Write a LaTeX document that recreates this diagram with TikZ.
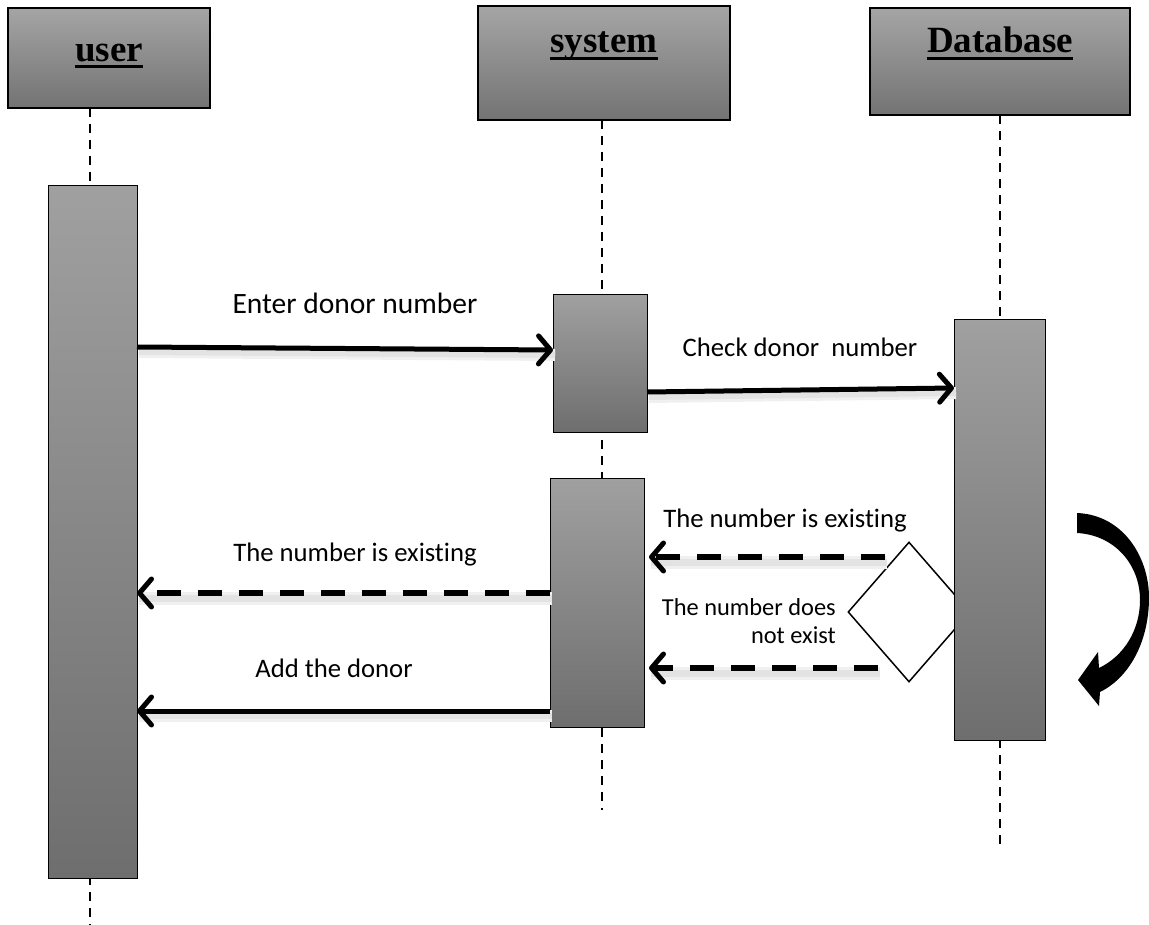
\documentclass[tikz,border=0pt]{standalone}
\usepackage{fontspec}
\setmainfont{Carlito}[Ligatures=NoCommon]
\newfontfamily\hdfont{Liberation Serif}
\usetikzlibrary{arrows.meta,shapes.geometric}
\definecolor{gtop}{RGB}{165,165,165}
\definecolor{gbot}{RGB}{115,115,115}
\definecolor{atop}{RGB}{160,160,160}
\definecolor{abot}{RGB}{110,110,110}
\begin{document}
\begin{tikzpicture}[x=1pt,y=-1pt,
  hdr/.style={draw=black, line width=1.2pt, top color=gtop, bottom color=gbot, inner sep=0pt, outer sep=0pt, rectangle},
  htxt/.style={font=\hdfont\bfseries\fontsize{37}{40}\selectfont, inner sep=0pt, anchor=base},
  uline/.style={line width=3pt},
  act/.style={draw=black, line width=1pt, top color=atop, bottom color=abot, inner sep=0pt, outer sep=0pt, rectangle},
  life/.style={line width=1.8pt, dash pattern=on 9pt off 7pt},
  shad/.style={preaction={draw=black!6, line width=#1+6pt, -, transform canvas={shift={(2pt,-5pt)}}},
               preaction={draw=black!11, line width=#1, -, transform canvas={shift={(2pt,-5pt)}}}},
  msg/.style={line width=5pt, shad=6pt, -{Straight Barb[length=12pt,width=28pt,line width=5pt,round]}},
  ret/.style={line width=6pt, shad=7pt, dash pattern=on 24pt off 17pt, -{Straight Barb[length=12pt,width=28pt,line width=5pt,round]}},
  lbl/.style={font=\fontsize{26.7}{31}\selectfont, inner sep=0pt},
  blbl/.style={font=\fontsize{29.5}{33}\selectfont, inner sep=0pt},
  slbl/.style={font=\fontsize{24.4}{28}\selectfont, inner sep=0pt, align=right},
  curl/.style={fill=black, draw=none}
]
\useasboundingbox (0,0) rectangle (1149,925);

% headers
\node[hdr, minimum width=202pt, minimum height=100pt] (uh) at (109,58) {};
\node[hdr, minimum width=252pt, minimum height=114pt] (sh) at (604,63) {};
\node[hdr, minimum width=260pt, minimum height=107pt] (dh) at (1000,61.5) {};
\node[htxt] (ut) at (109,62) {user};
\node[htxt] (st) at (604,53) {system};
\node[htxt] (dt) at (1000,53) {Database};
\draw[uline] ([yshift=-5pt]ut.base west) -- ([yshift=-5pt]ut.base east);
\draw[uline] ([yshift=-6pt]st.base west) -- ([yshift=-6pt]st.base east);
\draw[uline] ([yshift=-6pt]dt.base west) -- ([yshift=-6pt]dt.base east);

% lifelines
\coordinate (ul) at (90,925);
\coordinate (sl) at (602,810);
\coordinate (dl) at (1000,845);
\draw[life] (uh.south -| ul) -- (ul);
\draw[life] (sh.south -| sl) -- (sl);
\draw[life] (dh.south -| dl) -- (dl);

% diamond (behind database bar)
\node[diamond, draw=black, line width=1.5pt, fill=white, minimum width=122pt, minimum height=140pt, inner sep=0pt] (dia) at (909,612) {};

% activation bars
\node[act, minimum width=89pt, minimum height=692pt] (ua) at (92.5,532) {};
\node[act, minimum width=94pt, minimum height=137pt] (sa1) at (600,363.5) {};
\node[act, minimum width=94pt, minimum height=249pt] (sa2) at (597,602.5) {};
\node[act, minimum width=91pt, minimum height=420pt] (da) at (999.5,530) {};

% messages
\draw[msg] (ua.east |- 0,347) -- (sa1.west |- 0,350);
\draw[msg] (sa1.east |- 0,392) -- (da.west |- 0,388);
\coordinate (c1) at (885,557);
\coordinate (c2) at (878,668);
\draw[ret, shorten >=5pt] (c1) -- (sa2.east |- c1);
\draw[ret, shorten >=5pt] (c2) -- (sa2.east |- c2);
\draw[ret] (sa2.west |- 0,593) -- (ua.east |- 0,593);
\draw[msg] (sa2.west |- 0,711) -- (ua.east |- 0,711);

% labels
\node[blbl] (l1) at (355,303) {Enter donor number};
\node[lbl] (l2) at (800,347) {Check donor\ \ number};
\node[lbl] (l3) at (785,521) {The number is existing};
\node[lbl] (l4) at (355,555) {The number is existing};
\node[slbl, anchor=east] (l5) at (836,621) {The number does\\not exist};
\node[lbl] (l6) at (334,668) {Add the donor};

% self-loop curved arrow
\fill[curl] (1077,513) .. controls (1125,515) and (1150,560) .. (1149,600)
  .. controls (1148,648) and (1125,680) .. (1100,692)
  -- (1099,706) -- (1078,680) -- (1098,652) -- (1099,668)
  .. controls (1124,656) and (1140,630) .. (1140,600)
  .. controls (1140,565) and (1115,535) .. (1077,533) -- cycle;
\end{tikzpicture}
\end{document}
